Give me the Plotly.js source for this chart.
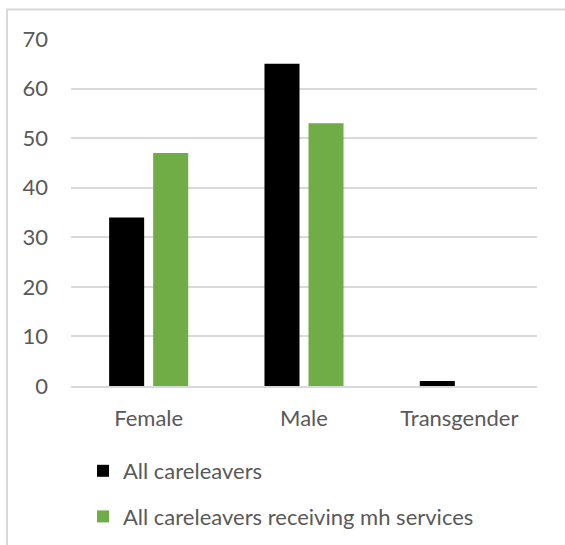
<!DOCTYPE html>
<html>
<head>
<meta charset="utf-8">
<script src="https://cdn.plot.ly/plotly-3.0.1.min.js"></script>
<style>html,body{margin:0;padding:0;background:#fff;}#chart{width:565px;height:545px;}</style>
</head>
<body>
<div id="chart"></div>
<script>
const categories = ["Female", "Male", "Transgender"];
const allCareleavers = [34, 65, 1];
const mhServices = [47, 53, 0];
const seriesNames = ["All careleavers", "All careleavers receiving mh services"];
const yTicks = [0, 10, 20, 30, 40, 50, 60, 70];

const W = 565, H = 545;
const m = {l: 71, r: 28, t: 39, b: 159, autoexpand: false};
const pw = W - m.l - m.r, ph = H - m.t - m.b;
const px = x => (x - m.l) / pw;
const py = y => (H - m.b - y) / ph;

const traces = [
  {type: "bar", x: categories, y: allCareleavers, name: seriesNames[0],
   marker: {color: "#000000"}, legendgroup: "a"},
  {type: "bar", x: categories, y: mhServices, name: seriesNames[1],
   marker: {color: "#70AD47"}, legendgroup: "b"}
];

const layout = {
  width: W, height: H,
  margin: m,
  paper_bgcolor: "#ffffff", plot_bgcolor: "#ffffff",
  font: {family: "Lato, 'Open Sans', sans-serif", size: 22, color: "#595959"},
  barmode: "group",
  bargap: 0.433,
  bargroupgap: 0.2045,
  xaxis: {
    showline: true, linecolor: "#D9D9D9", linewidth: 2,
    ticks: "", showgrid: false, zeroline: false,
    tickfont: {size: 22, color: "#595959"},
    ticklabelstandoff: 12
  },
  yaxis: {
    range: [0, 70], tickvals: yTicks, ticktext: yTicks.map(String),
    showgrid: true, gridcolor: "#D9D9D9", gridwidth: 2,
    zeroline: false, showline: false, ticks: "",
    tickfont: {size: 22, color: "#595959"},
    ticklabelstandoff: 22
  },
  showlegend: true,
  legend: {
    orientation: "v", x: px(83), xanchor: "left", y: py(450), yanchor: "top",
    traceorder: "grouped", tracegroupgap: 14,
    font: {size: 22, color: "#595959"},
    bgcolor: "rgba(0,0,0,0)"
  },
  shapes: [
    {type: "rect", xref: "paper", yref: "paper",
     x0: px(7), x1: px(700), y0: py(700), y1: py(9.5),
     line: {color: "#D9D9D9", width: 2}, fillcolor: "rgba(0,0,0,0)", layer: "below"}
  ]
};

Plotly.newPlot("chart", traces, layout, {displayModeBar: false, staticPlot: true});
</script>
</body>
</html>
